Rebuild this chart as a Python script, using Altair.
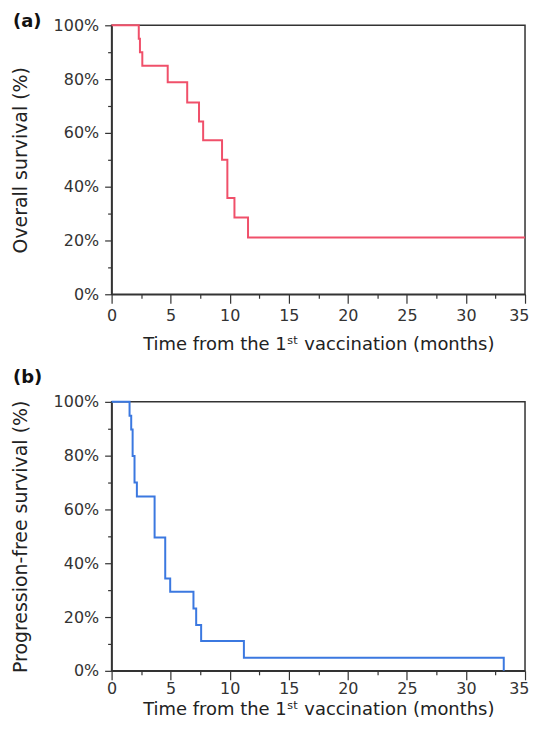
import altair as alt
import pandas as pd

# Overall survival (panel a)
os_time = [0, 2.3, 2.4, 2.6, 4.75, 6.4, 7.4, 7.75, 9.35, 9.8, 10.4, 11.55, 35]
os_surv = [100, 95, 90, 85, 78.8, 71.3, 64.2, 57.3, 50, 35.8, 28.5, 21.1, 21.1]

# Progression-free survival (panel b)
pfs_time = [0, 1.52, 1.66, 1.78, 1.94, 2.14, 3.64, 4.54, 4.96, 6.93, 7.16, 7.58, 11.2, 33.2]
pfs_surv = [100, 94.8, 89.7, 79.9, 70, 64.8, 49.6, 34.3, 29.4, 23.2, 17, 11.1, 4.9, 0]

x_ticks = [0, 2.5, 5, 7.5, 10, 12.5, 15, 17.5, 20, 22.5, 25, 27.5, 30, 32.5, 35]
y_ticks = [0, 10, 20, 30, 40, 50, 60, 70, 80, 90, 100]

x_title = "Time from the 1ˢᵗ vaccination (months)"
FONT = "DejaVu Sans"
INK = "#333333"


def panel(times, surv, color, ytitle, tag, tag_y, lab_pad, x_title_pad):
    df = pd.DataFrame({"t": times, "s": surv})
    line = alt.Chart(df).mark_line(
        interpolate="step-after", color=color, strokeWidth=2
    ).encode(
        x=alt.X(
            "t:Q",
            scale=alt.Scale(domain=[0, 35], nice=False, zero=False),
            axis=alt.Axis(
                values=x_ticks,
                labelExpr="datum.value % 5 === 0 ? datum.label : ''",
                tickSize={"condition": {"test": "datum.value % 5 === 0", "value": 9}, "value": 4},
                labelAlign={"condition": {"test": "datum.value === 35", "value": "right"}, "value": "center"},
                labelOffset={"condition": {"test": "datum.value === 35", "value": 4}, "value": 0},
                title=x_title,
                titleFontSize=18,
                titlePadding=x_title_pad,
                labelPadding=lab_pad,
                labelFlush=False,
                labelOverlap=False,
                grid=False,
            ),
        ),
        y=alt.Y(
            "s:Q",
            scale=alt.Scale(domain=[0, 100], nice=False),
            axis=alt.Axis(
                values=y_ticks,
                labelExpr="datum.value % 20 === 0 ? datum.value + '%' : ''",
                tickSize={"condition": {"test": "datum.value % 20 === 0", "value": 7}, "value": 4},
                title=ytitle,
                titleFontSize=19,
                titleX=-81,
                labelPadding=6,
                labelFlush=False,
                labelOverlap=False,
                grid=False,
            ),
        ),
    )
    lab = alt.Chart(pd.DataFrame({"l": [tag]})).mark_text(
        font=FONT, fontSize=18, fontWeight="bold", align="left",
        baseline="top", color="#111111"
    ).encode(text="l:N", x=alt.value(-99), y=alt.value(tag_y))
    return alt.layer(line, lab).properties(width=415, height=270)


top = panel(os_time, os_surv, "#f0506a", "Overall survival (%)", "(a)", -12, 4, 12)
bottom = panel(pfs_time, pfs_surv, "#3b78e0", "Progression-free survival (%)", "(b)", -33, 1, 4)

chart = alt.vconcat(top, bottom, spacing=14).properties(
    padding={"left": 3, "top": 3, "right": 0, "bottom": 0},
    background="white",
).configure_view(
    stroke=INK, strokeWidth=1.5
).configure_axis(
    domainColor=INK, domainWidth=1.5, tickColor=INK, tickWidth=1.2,
    labelColor=INK, labelFont=FONT, labelFontSize=16,
    titleColor="#222222", titleFont=FONT, titleFontWeight="normal",
)

chart.save("out.html", embed_options={"renderer": "svg", "actions": False})
